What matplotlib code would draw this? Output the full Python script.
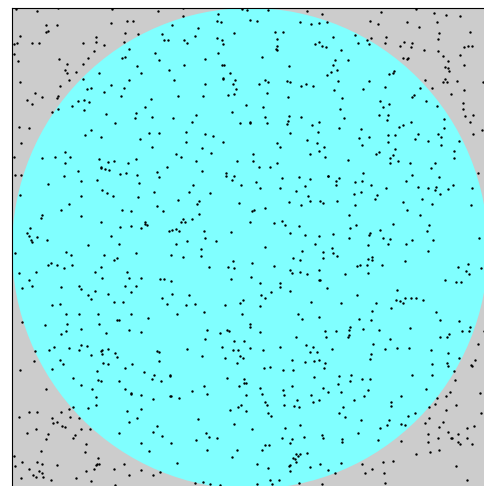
# Monte Carlo 점 찍기 - 원 안/밖 점 분포
import matplotlib.pyplot as plt
from matplotlib.patches import Circle

# 위쪽 띠 (y 0.67 ~ 1.0)
top_pts = [
    (.009,.998),(.053,.994),(.097,.999),(.210,.997),(.307,.994),(.072,.965),(.095,.964),(.208,.968),
    (.242,.973),(.254,.973),(.071,.951),(.076,.952),(.017,.942),(.176,.940),(.238,.947),(.265,.946),
    (.316,.946),(.005,.926),(.010,.927),(.041,.928),(.057,.928),(.150,.928),(.176,.929),(.194,.923),
    (.235,.929),(.320,.933),(.328,.934),(.004,.904),(.172,.910),(.246,.914),(.300,.907),(.099,.895),
    (.013,.889),(.160,.896),(.231,.896),(.237,.899),(.308,.891),(.116,.883),(.149,.883),(.263,.880),
    (.111,.871),(.115,.864),(.134,.866),(.182,.865),(.270,.864),(.329,.872),(.120,.851),(.017,.847),
    (.149,.852),(.246,.851),(.101,.837),(.158,.831),(.166,.833),(.207,.840),(.236,.833),(.049,.824),
    (.193,.825),(.097,.817),(.095,.812),(.063,.815),(.032,.808),(.042,.801),(.229,.817),(.291,.811),
    (.139,.806),(.152,.809),(.162,.805),(.127,.796),(.279,.795),(.097,.790),(.151,.787),(.085,.783),
    (.198,.780),(.260,.781),(.258,.772),(.295,.774),(.216,.761),(.015,.752),(.036,.750),(.166,.747),
    (.287,.741),(.308,.740),(.154,.735),(.188,.732),(.269,.728),(.018,.720),(.295,.711),(.111,.700),
    (.064,.688),(.091,.690),(.122,.691),(.004,.690),(.182,.686),(.260,.686),(.202,.680),(.214,.681),
    (.244,.678),(.111,.677),(.325,.670),(.186,.670),
    (.360,.999),(.359,.984),(.336,.965),(.483,.998),(.494,.995),(.538,.995),(.619,.993),(.651,.987),
    (.432,.987),(.430,.973),(.439,.971),(.499,.975),(.515,.973),(.606,.970),(.628,.967),(.645,.968),
    (.662,.970),(.391,.958),(.467,.947),(.553,.950),(.569,.951),(.384,.941),(.431,.937),(.442,.934),
    (.362,.933),(.367,.928),(.444,.926),(.556,.935),(.637,.926),(.646,.930),(.652,.921),(.660,.919),
    (.557,.922),(.555,.915),(.556,.912),(.433,.907),(.525,.898),(.405,.894),(.442,.882),(.445,.882),
    (.361,.881),(.582,.880),(.457,.864),(.662,.861),(.443,.855),(.443,.853),(.468,.851),(.340,.851),
    (.405,.843),(.465,.842),(.532,.851),(.538,.847),(.578,.849),(.585,.846),(.518,.842),(.607,.837),
    (.617,.842),(.632,.838),(.471,.831),(.466,.822),(.536,.824),(.348,.817),(.402,.817),(.454,.819),
    (.579,.815),(.492,.798),(.527,.794),(.462,.783),(.387,.777),(.338,.772),(.532,.773),(.581,.776),
    (.607,.774),(.379,.763),(.480,.760),(.500,.763),(.501,.761),(.535,.760),(.579,.765),(.578,.758),
    (.630,.756),(.644,.763),(.365,.743),(.584,.740),(.642,.743),(.405,.738),(.422,.733),(.619,.725),
    (.366,.722),(.443,.721),(.556,.719),(.563,.711),(.641,.720),(.399,.709),(.418,.699),(.345,.696),
    (.506,.697),(.625,.696),(.656,.710),(.645,.703),(.354,.690),(.657,.691),(.387,.682),(.472,.681),
    (.506,.681),(.557,.678),(.518,.670),(.542,.670),
    (.776,.991),(.849,.998),(.887,.989),(.912,.986),(.941,.984),(.752,.972),(.769,.966),(.829,.971),
    (.855,.961),(.893,.970),(.675,.939),(.720,.943),(.726,.927),(.746,.934),(.754,.937),(.751,.925),
    (.786,.939),(.783,.928),(.898,.948),(.895,.935),(.962,.951),(.815,.921),(.824,.929),(.841,.928),
    (.838,.919),(.865,.912),(.896,.910),(.906,.901),(.950,.918),(.959,.922),(.966,.920),(.691,.913),
    (.705,.891),(.679,.891),(.674,.881),(.682,.872),(.670,.867),(.822,.897),(.829,.895),(.832,.897),
    (.941,.902),(.917,.889),(.909,.878),(.917,.876),(.918,.869),(.950,.882),(.792,.862),(.801,.864),
    (.803,.868),(.867,.850),(.910,.853),(.914,.846),(.906,.846),(.935,.848),(.990,.847),(.684,.848),
    (.749,.849),(.676,.829),(.738,.831),(.783,.835),(.857,.834),(.882,.833),(.949,.829),(.693,.813),
    (.845,.819),(.840,.815),(.922,.822),(.947,.802),(.948,.791),(.952,.775),(.969,.777),(.774,.806),
    (.791,.801),(.780,.794),(.869,.807),(.892,.797),(.689,.789),(.698,.772),(.771,.777),(.790,.777),
    (.787,.768),(.838,.763),(.822,.756),(.813,.753),(.908,.770),(.962,.762),(.688,.751),(.733,.749),
    (.908,.750),(.852,.738),(.894,.738),(.902,.732),(.968,.739),(.988,.746),(.728,.729),(.749,.731),
    (.790,.735),(.805,.735),(.847,.727),(.873,.724),(.789,.722),(.901,.715),(.939,.724),(.735,.715),
    (.804,.706),(.929,.702),(.764,.696),(.771,.701),(.801,.694),(.794,.688),(.929,.688),(.705,.685),
    (.810,.681),(.794,.678),(.836,.678),(.889,.677),
]

# 가운데 띠 (y 0.34 ~ 0.67)
mid_pts = [
    (.006,.653),(.018,.653),(.139,.662),(.186,.667),(.195,.665),(.204,.664),(.109,.650),(.226,.654),
    (.239,.656),(.263,.652),(.305,.660),(.309,.648),(.075,.635),(.146,.640),(.179,.642),(.267,.636),
    (.189,.622),(.200,.615),(.213,.609),(.144,.610),(.016,.612),(.265,.607),(.298,.618),(.120,.592),
    (.102,.581),(.146,.567),(.232,.581),(.249,.579),(.305,.589),(.317,.577),(.064,.570),(.060,.563),
    (.187,.556),(.280,.556),(.279,.550),(.283,.548),(.227,.544),(.250,.546),(.270,.543),(.330,.536),
    (.037,.543),(.031,.533),(.036,.527),(.053,.524),(.074,.518),(.040,.518),(.042,.514),(.208,.525),
    (.224,.510),(.159,.507),(.006,.490),(.114,.493),(.123,.486),(.193,.486),(.214,.477),(.221,.480),
    (.260,.491),(.082,.470),(.094,.466),(.075,.465),(.127,.465),(.110,.459),(.186,.461),(.050,.452),
    (.014,.450),(.175,.451),(.241,.452),(.190,.439),(.246,.439),(.270,.438),(.311,.437),(.319,.437),
    (.035,.434),(.041,.422),(.022,.417),(.102,.420),(.140,.421),(.146,.416),(.238,.421),(.260,.421),
    (.249,.410),(.159,.404),(.175,.412),(.202,.405),(.165,.394),(.316,.398),(.326,.385),(.215,.388),
    (.233,.388),(.083,.382),(.101,.385),(.113,.364),(.140,.364),(.181,.363),(.250,.363),(.286,.355),
    (.221,.352),(.225,.351),(.020,.347),(.069,.340),(.116,.343),(.183,.344),
    (.399,.661),(.450,.656),(.450,.650),(.466,.651),(.462,.642),(.380,.633),(.482,.631),(.513,.638),
    (.521,.626),(.567,.647),(.603,.648),(.625,.645),(.663,.650),(.371,.618),(.417,.615),(.564,.626),
    (.597,.620),(.615,.629),(.621,.610),(.349,.601),(.392,.599),(.388,.592),(.476,.595),(.532,.585),
    (.504,.579),(.508,.581),(.582,.596),(.608,.590),(.625,.599),(.647,.599),(.653,.595),(.392,.571),
    (.359,.561),(.355,.556),(.363,.555),(.379,.561),(.499,.556),(.551,.554),(.567,.557),(.574,.549),
    (.602,.547),(.337,.539),(.344,.540),(.351,.536),(.403,.536),(.460,.535),(.584,.533),(.616,.528),
    (.644,.527),(.405,.521),(.429,.516),(.368,.516),(.344,.510),(.397,.499),(.532,.504),(.636,.510),
    (.333,.487),(.360,.483),(.397,.484),(.609,.495),(.654,.492),(.653,.481),(.590,.480),(.605,.477),
    (.465,.474),(.505,.470),(.414,.462),(.453,.461),(.466,.460),(.551,.464),(.585,.455),(.588,.449),
    (.604,.451),(.619,.446),(.644,.455),(.461,.437),(.502,.441),(.644,.435),(.647,.435),(.333,.432),
    (.520,.429),(.563,.429),(.562,.419),(.662,.417),(.336,.405),(.372,.403),(.523,.403),(.532,.398),
    (.545,.410),(.585,.411),(.366,.383),(.384,.385),(.485,.393),(.480,.387),(.448,.382),(.522,.381),
    (.628,.389),(.403,.369),(.347,.363),(.483,.363),(.600,.364),(.609,.354),(.646,.357),(.499,.342),
    (.501,.337),
    (.664,.651),(.681,.640),(.681,.633),(.686,.647),(.738,.656),(.736,.641),(.721,.638),(.755,.631),
    (.840,.653),(.881,.667),(.898,.649),(.827,.641),(.852,.628),(.873,.625),(.888,.622),(.891,.628),
    (.899,.614),(.917,.624),(.926,.631),(.980,.656),(.966,.626),(.719,.614),(.734,.618),(.767,.612),
    (.763,.602),(.683,.599),(.786,.625),(.822,.597),(.861,.603),(.882,.592),(.965,.591),(.720,.590),
    (.830,.580),(.707,.570),(.857,.569),(.801,.550),(.877,.549),(.723,.549),(.710,.543),(.773,.539),
    (.872,.536),(.675,.531),(.752,.533),(.750,.529),(.707,.521),(.779,.521),(.795,.520),(.840,.518),
    (.885,.518),(.982,.521),(.790,.510),(.828,.510),(.748,.508),(.673,.500),(.675,.490),(.682,.485),
    (.873,.495),(.747,.479),(.756,.482),(.756,.477),(.826,.475),(.724,.463),(.731,.466),(.745,.466),
    (.777,.466),(.936,.462),(.959,.468),(.985,.459),(.953,.453),(.960,.448),(.699,.446),(.748,.450),
    (.910,.435),(.933,.430),(.944,.430),(.808,.414),(.724,.403),(.691,.386),(.765,.387),(.806,.392),
    (.815,.390),(.822,.387),(.826,.397),(.838,.397),(.848,.397),(.863,.393),(.796,.377),(.757,.371),
    (.890,.369),(.729,.353),(.754,.352),(.899,.351),(.940,.350),(.710,.337),(.963,.337),
]

# 아래쪽 띠 (y 0 ~ 0.34)
bottom_pts = [
    (.113,.328),(.103,.322),(.145,.333),(.198,.324),(.246,.330),(.272,.326),(.048,.287),(.077,.289),
    (.088,.296),(.119,.294),(.140,.289),(.144,.299),(.158,.297),(.186,.286),(.190,.290),(.202,.291),
    (.189,.280),(.165,.278),(.217,.282),(.220,.275),(.305,.287),(.308,.285),(.046,.267),(.101,.269),
    (.108,.260),(.191,.262),(.202,.259),(.253,.260),(.308,.266),(.017,.247),(.085,.249),(.178,.245),
    (.237,.251),(.278,.243),(.298,.236),(.295,.229),(.312,.225),(.128,.231),(.181,.226),(.186,.224),
    (.225,.224),(.331,.234),(.146,.217),(.071,.208),(.169,.207),(.237,.207),(.249,.199),(.251,.197),
    (.271,.195),(.176,.191),(.296,.188),(.331,.193),(.128,.171),(.176,.175),(.160,.168),(.272,.167),
    (.036,.161),(.053,.161),(.103,.161),(.119,.166),(.241,.162),(.014,.149),(.083,.147),(.121,.150),
    (.141,.148),(.262,.148),(.086,.138),(.095,.139),(.246,.140),(.104,.130),(.111,.128),(.050,.125),
    (.145,.124),(.163,.124),(.305,.130),(.032,.116),(.075,.114),(.132,.113),(.129,.105),(.071,.103),
    (.225,.117),(.297,.118),(.316,.110),(.156,.094),(.270,.095),(.060,.078),(.153,.076),(.287,.080),
    (.004,.069),(.021,.057),(.053,.057),(.064,.052),(.095,.049),(.006,.048),(.181,.064),(.179,.053),
    (.183,.053),(.176,.049),(.236,.053),(.036,.042),(.057,.038),(.062,.034),(.155,.037),(.172,.041),
    (.215,.041),(.270,.039),(.311,.036),(.044,.029),(.051,.025),(.065,.025),(.246,.029),(.297,.030),
    (.019,.022),(.082,.019),(.134,.023),(.167,.017),(.217,.008),
    (.410,.330),(.437,.324),(.452,.330),(.455,.328),(.520,.326),(.597,.317),(.658,.328),(.660,.317),
    (.406,.311),(.466,.308),(.487,.308),(.441,.296),(.367,.292),(.464,.290),(.475,.290),(.501,.294),
    (.527,.288),(.562,.295),(.618,.300),(.633,.296),(.625,.285),(.640,.285),(.399,.276),(.448,.273),
    (.480,.276),(.485,.273),(.473,.261),(.589,.269),(.616,.263),(.634,.266),(.646,.269),(.658,.262),
    (.655,.251),(.529,.251),(.543,.253),(.569,.247),(.590,.248),(.332,.236),(.452,.230),(.487,.229),
    (.487,.220),(.491,.220),(.635,.233),(.403,.215),(.476,.215),(.522,.211),(.588,.215),(.653,.210),
    (.378,.204),(.569,.206),(.410,.197),(.492,.196),(.525,.197),(.571,.195),(.334,.194),(.351,.189),
    (.628,.195),(.599,.185),(.644,.186),(.532,.181),(.535,.175),(.481,.174),(.475,.171),(.457,.164),
    (.492,.162),(.571,.174),(.592,.172),(.602,.170),(.632,.181),(.538,.159),(.544,.152),(.390,.145),
    (.467,.136),(.606,.134),(.504,.125),(.574,.127),(.408,.117),(.414,.109),(.431,.107),(.651,.113),
    (.653,.105),(.386,.101),(.567,.107),(.589,.104),(.613,.109),(.335,.095),(.585,.095),(.539,.092),
    (.532,.091),(.409,.082),(.472,.082),(.525,.082),(.462,.067),(.596,.072),(.604,.072),(.600,.068),
    (.620,.074),(.590,.065),(.594,.062),(.597,.057),(.346,.055),(.515,.053),(.581,.048),(.585,.049),
    (.647,.052),(.537,.044),(.627,.045),(.584,.037),(.543,.019),(.561,.019),(.385,.012),(.402,.014),
    (.415,.010),(.438,.008),(.514,.010),(.546,.010),(.602,.012),(.652,.010),
    (.680,.328),(.707,.330),(.738,.332),(.770,.330),(.836,.334),(.707,.321),(.705,.315),(.899,.316),
    (.913,.317),(.918,.322),(.945,.328),(.960,.328),(.991,.329),(.759,.301),(.794,.311),(.673,.292),
    (.784,.292),(.809,.294),(.834,.294),(.880,.289),(.978,.301),(.754,.281),(.752,.271),(.915,.283),
    (.940,.272),(.972,.268),(.913,.262),(.917,.256),(.882,.259),(.964,.258),(.966,.256),(.686,.234),
    (.712,.236),(.736,.229),(.753,.228),(.710,.224),(.841,.238),(.882,.236),(.929,.245),(.685,.219),
    (.664,.201),(.691,.201),(.748,.206),(.931,.226),(.870,.208),(.920,.202),(.912,.194),(.983,.199),
    (.718,.186),(.739,.193),(.817,.193),(.893,.190),(.796,.181),(.796,.172),(.695,.170),(.888,.176),
    (.876,.170),(.932,.174),(.911,.164),(.686,.159),(.699,.150),(.846,.159),(.831,.152),(.985,.158),
    (.734,.143),(.791,.143),(.787,.134),(.774,.127),(.817,.136),(.826,.134),(.875,.147),(.867,.137),
    (.906,.140),(.898,.129),(.970,.131),(.955,.127),(.726,.117),(.873,.114),(.915,.118),(.936,.114),
    (.693,.104),(.693,.097),(.768,.101),(.817,.099),(.896,.107),(.925,.107),(.923,.105),(.955,.106),
    (.937,.097),(.941,.093),(.967,.093),(.873,.098),(.849,.072),(.878,.076),(.897,.081),(.691,.055),
    (.735,.051),(.780,.056),(.801,.058),(.932,.048),(.664,.040),(.679,.034),(.742,.033),(.756,.041),
    (.781,.033),(.956,.019),(.784,.012),
]

pts = top_pts + mid_pts + bottom_pts
xs = [p[0] for p in pts]
ys = [p[1] for p in pts]

fig = plt.figure(figsize=(4.84, 4.86), dpi=100)
ax = fig.add_axes([12/484, -3/486, 476/484, 481/486])   # 오른쪽/아래는 그림 밖으로 잘림
ax.set_facecolor('#cccccc')
ax.add_patch(Circle((0.5, 0.5), 0.5, facecolor='#80ffff', edgecolor='none', zorder=1))
ax.scatter(xs, ys, s=3, c='k', linewidths=0, zorder=2)
ax.set_xlim(0, 1)
ax.set_ylim(0, 1)
ax.set_xticks([])
ax.set_yticks([])

fig.savefig('out.png', dpi=100)
